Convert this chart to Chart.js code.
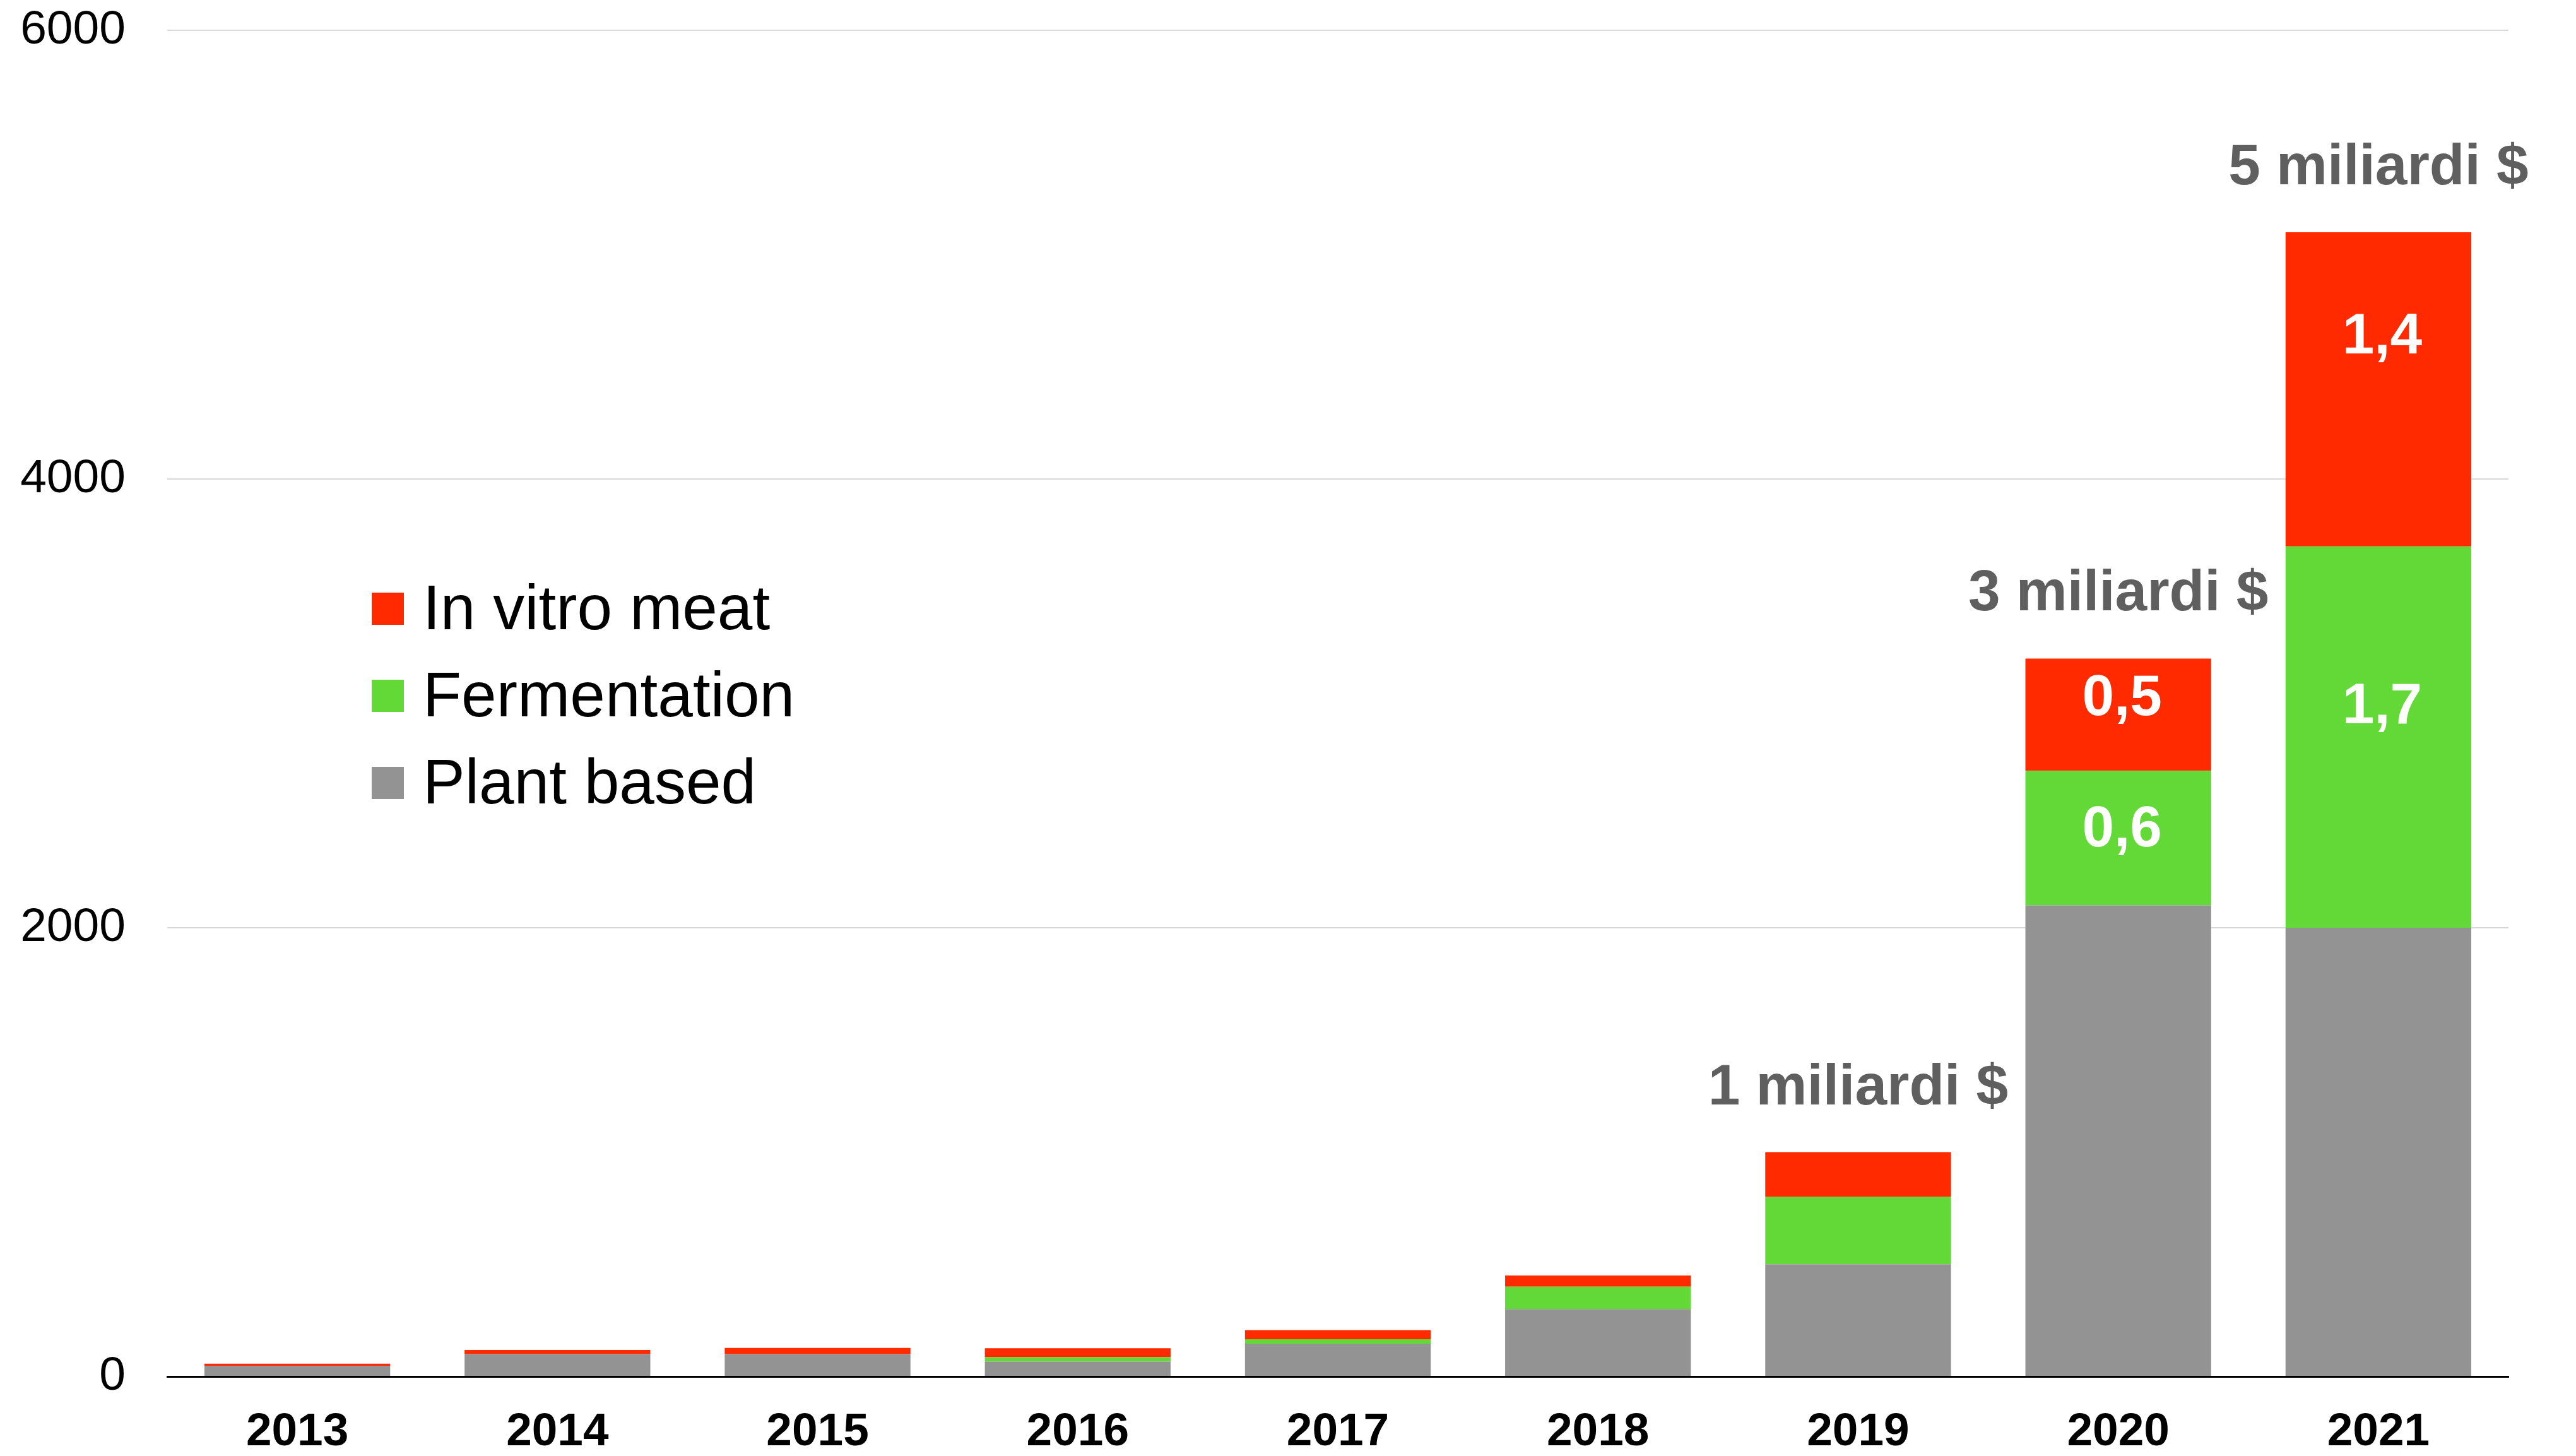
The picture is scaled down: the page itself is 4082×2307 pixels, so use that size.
<!DOCTYPE html>
<html>
<head>
<meta charset="utf-8">
<script src="https://cdn.jsdelivr.net/npm/chart.js@4.4.1/dist/chart.umd.min.js"></script>
<style>
  html, body { margin: 0; padding: 0; background: #ffffff; }
  canvas { display: block; }
</style>
</head>
<body>
<canvas id="c" width="4082" height="2307"></canvas>
<script>
// ---- Data (millions of $) ----
const years = ['2013', '2014', '2015', '2016', '2017', '2018', '2019', '2020', '2021'];
const plantBased   = [48, 100, 100, 66, 146, 300, 500, 2100, 2000];
const fermentation = [0, 0, 0, 20, 20, 100, 300, 600, 1700];
const inVitroMeat  = [9, 18, 27, 40, 41, 50, 200, 500, 1400];

const fermentationLabels = ['', '', '', '', '', '', '', '0,6', '1,7'];
const inVitroLabels      = ['', '', '', '', '', '', '', '0,5', '1,4'];
const totalLabels        = ['', '', '', '', '', '', '1 miliardi $', '3 miliardi $', '5 miliardi $'];

const yTickValues = [0, 2000, 4000, 6000];

const seriesNames = ['Plant based', 'Fermentation', 'In vitro meat'];
const seriesColors = ['#939393', '#62d937', '#ff2a00'];

const FONT = '"Liberation Sans", Arial, Helvetica, sans-serif';

// ---- Custom drawing plugin: in-bar values, totals, legend ----
const overlayPlugin = {
  id: 'overlay',
  afterDatasetsDraw(chart) {
    const ctx = chart.ctx;
    ctx.save();
    // in-bar value labels (label set, relative vertical placement inside the segment)
    const valueSets = [null, [fermentationLabels, 0.41], [inVitroLabels, 0.32]];
    const valSize = 91;
    ctx.font = 'bold ' + valSize + 'px ' + FONT;
    ctx.fillStyle = '#ffffff';
    ctx.textAlign = 'center';
    ctx.textBaseline = 'alphabetic';
    valueSets.forEach((entry, di) => {
      if (!entry) return;
      const [labels, frac] = entry;
      const meta = chart.getDatasetMeta(di);
      meta.data.forEach((bar, i) => {
        const t = labels[i];
        if (!t) return;
        const top = Math.min(bar.y, bar.base);
        const h = Math.abs(bar.base - bar.y);
        const cy = top + h * frac;
        ctx.fillText(t, bar.x + 6, cy + 0.358 * valSize);
      });
    });
    // totals above bars
    const totSize = 91;
    ctx.font = 'bold ' + totSize + 'px ' + FONT;
    ctx.fillStyle = '#5f5f5f';
    const topMeta = chart.getDatasetMeta(2);
    topMeta.data.forEach((bar, i) => {
      const t = totalLabels[i];
      if (!t) return;
      ctx.fillText(t, bar.x, bar.y - 76);
    });
    // legend
    const area = chart.chartArea;
    const lx = area.left + 324;
    const ly = area.top + 891;
    const box = 51;
    const step = 138;
    ctx.font = '100px ' + FONT;
    ctx.textAlign = 'left';
    const order = [2, 1, 0];
    order.forEach((di, k) => {
      const y = ly + k * step;
      ctx.fillStyle = seriesColors[di];
      ctx.fillRect(lx, y, box, box);
      ctx.fillStyle = '#000000';
      ctx.fillText(seriesNames[di], lx + box + 30, y + 58);
    });
    ctx.restore();
  }
};

const datasets = [plantBased, fermentation, inVitroMeat].map((values, i) => ({
  label: seriesNames[i],
  data: values,
  backgroundColor: seriesColors[i],
  borderWidth: 0,
  barPercentage: 0.714,
  categoryPercentage: 1.0
}));

new Chart(document.getElementById('c'), {
  type: 'bar',
  data: { labels: years, datasets },
  plugins: [overlayPlugin],
  options: {
    responsive: false,
    animation: false,
    devicePixelRatio: 1,
    layout: { padding: { top: 48, right: 107, left: 0, bottom: 0 } },
    plugins: {
      legend: { display: false },
      tooltip: { enabled: false }
    },
    scales: {
      x: {
        stacked: true,
        grid: { display: false, drawTicks: false },
        border: { display: true, color: '#000000', width: 3 },
        ticks: {
          color: '#000000',
          padding: 45,
          font: { family: FONT, size: 73, weight: 'bold' },
          maxRotation: 0
        },
        afterFit(scale) { scale.height = 126; }
      },
      y: {
        stacked: true,
        min: 0,
        max: 6000,
        grid: { color: '#d9d9d9', lineWidth: 2, drawTicks: true, tickLength: 66, tickColor: 'rgba(0,0,0,0)' },
        border: { display: false },
        afterBuildTicks(scale) { scale.ticks = yTickValues.map(v => ({ value: v })); },
        ticks: {
          color: '#000000',
          padding: 0,
          font: { family: FONT, size: 75 },
          callback: (v) => String(v)
        },
        afterFit(scale) { scale.width = 265; }
      }
    }
  }
});
</script>
</body>
</html>
